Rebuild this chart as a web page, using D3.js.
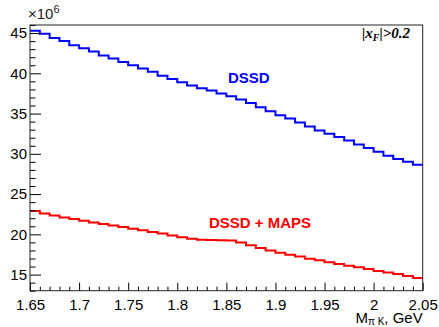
<!DOCTYPE html>
<html>
<head>
<meta charset="utf-8">
<script src="https://cdn.jsdelivr.net/npm/d3@7"></script>
<style>
  body { margin: 0; background: #fff; }
  svg { display: block; font-family: "Liberation Sans", Arial, sans-serif; }
</style>
</head>
<body>
<div id="vis"></div>
<script>
// bin edges: 40 bins of 0.01 GeV from 1.65 to 2.05
const binLow = 1.65, binWidth = 0.01;

// counts, x10^6
const dssd = [45.3, 44.9, 44.4, 44.0, 43.5, 43.1, 42.7, 42.2, 41.85, 41.4,
              41.0, 40.6, 40.2, 39.7, 39.3, 38.9, 38.5, 38.15, 37.85, 37.5,
              37.15, 36.75, 36.3, 35.8, 35.3, 34.8, 34.39, 33.89, 33.4, 32.9,
              32.49, 32.08, 31.66, 31.16, 30.71, 30.25, 29.76, 29.35, 29.01, 28.64];

const dssdMaps = [22.9, 22.6, 22.35, 22.1, 21.9, 21.7, 21.48, 21.27, 21.1, 20.9,
                  20.7, 20.5, 20.3, 20.1, 19.85, 19.65, 19.45, 19.33, 19.3, 19.28,
                  19.25, 19.0, 18.65, 18.3, 18.0, 17.72, 17.46, 17.25, 16.98, 16.77,
                  16.52, 16.32, 16.1, 15.9, 15.68, 15.45, 15.26, 15.06, 14.82, 14.58];

const xTicks = [1.65, 1.7, 1.75, 1.8, 1.85, 1.9, 1.95, 2, 2.05];
const yTicks = [15, 20, 25, 30, 35, 40, 45];

const W = 439, H = 327;
const frame = { left: 30, top: 25, right: 422.7, bottom: 290.7 };

const svg = d3.select("#vis").append("svg")
    .attr("width", W)
    .attr("height", H);

const x = d3.scaleLinear().domain([1.65, 2.05]).range([frame.left, frame.right]);
const y = d3.scaleLinear().domain([13, 46]).range([frame.bottom, frame.top]);

// histogram as step line
function toSteps(vals) {
    const pts = vals.map((v, i) => [binLow + i * binWidth, v]);
    pts.push([binLow + vals.length * binWidth, vals[vals.length - 1]]);
    return pts;
}
const step = d3.line()
    .curve(d3.curveStepAfter)
    .x(d => x(d[0]))
    .y(d => y(d[1]));

svg.append("path")
    .datum(toSteps(dssd))
    .attr("fill", "none")
    .attr("stroke", "#0000ff")
    .attr("stroke-width", 2)
    .attr("d", step);

svg.append("path")
    .datum(toSteps(dssdMaps))
    .attr("fill", "none")
    .attr("stroke", "#ff0000")
    .attr("stroke-width", 2)
    .attr("d", step);

// minor ticks
const yMinor = d3.range(13, 47, 1).filter(v => v % 5 !== 0);
const xMinor = d3.range(0, 41).map(i => +(1.65 + i * 0.01).toFixed(2))
    .filter(v => !xTicks.some(t => Math.abs(t - v) < 1e-6));

svg.append("g")
    .attr("transform", `translate(${frame.left},0)`)
    .call(d3.axisLeft(y).tickValues(yMinor).tickSize(-5.5).tickFormat(""))
    .call(g => g.select(".domain").remove());

svg.append("g")
    .attr("transform", `translate(0,${frame.bottom})`)
    .call(d3.axisBottom(x).tickValues(xMinor).tickSize(-4).tickFormat(""))
    .call(g => g.select(".domain").remove());

// major ticks + labels
const yAxis = svg.append("g")
    .attr("transform", `translate(${frame.left},0)`)
    .call(d3.axisLeft(y).tickValues(yTicks).tickSize(-11).tickPadding(3).tickFormat(d3.format("d")));
yAxis.select(".domain").remove();
yAxis.selectAll("text").attr("font-size", 15).attr("fill", "#000")
    .attr("font-family", "Liberation Sans, Arial, sans-serif");

const xAxis = svg.append("g")
    .attr("transform", `translate(0,${frame.bottom})`)
    .call(d3.axisBottom(x).tickValues(xTicks).tickSize(-8).tickPadding(9).tickFormat(d => String(d)));
xAxis.select(".domain").remove();
xAxis.selectAll("text").attr("font-size", 15).attr("fill", "#000")
    .attr("font-family", "Liberation Sans, Arial, sans-serif");

// frame
svg.append("rect")
    .attr("x", frame.left)
    .attr("y", frame.top)
    .attr("width", frame.right - frame.left)
    .attr("height", frame.bottom - frame.top)
    .attr("fill", "none")
    .attr("stroke", "#222")
    .attr("stroke-width", 1);

// exponent
const expo = svg.append("text")
    .attr("x", 28)
    .attr("y", 19)
    .attr("font-size", 15)
    .attr("fill", "#222");
expo.append("tspan").text("\u00d710");
expo.append("tspan").attr("font-size", 11).attr("dy", -6).text("6");

// axis title
const xt = svg.append("text")
    .attr("x", frame.right)
    .attr("y", 323)
    .attr("text-anchor", "end")
    .attr("font-size", 15)
    .attr("fill", "#000");
xt.append("tspan").text("M");
xt.append("tspan").attr("font-size", 10).attr("dy", 1.5).text("\u03c0 K");
xt.append("tspan").attr("dy", -1.5).text(", GeV");

// labels
svg.append("text")
    .attr("x", 228)
    .attr("y", 83)
    .attr("font-size", 15)
    .attr("font-weight", "bold")
    .attr("fill", "#0000ff")
    .text("DSSD");

svg.append("text")
    .attr("x", 209)
    .attr("y", 228)
    .attr("font-size", 15)
    .attr("font-weight", "bold")
    .attr("fill", "#ff0000")
    .text("DSSD + MAPS");

const cut = svg.append("text")
    .attr("x", 410)
    .attr("y", 38)
    .attr("text-anchor", "end")
    .attr("font-family", "Liberation Serif, Times New Roman, serif")
    .attr("font-size", 15)
    .attr("font-weight", "bold")
    .attr("font-style", "italic")
    .attr("fill", "#000");
cut.append("tspan").text("|x");
cut.append("tspan").attr("font-size", 10).attr("dy", 3).text("F");
cut.append("tspan").attr("dy", -3).text("|>0.2");
</script>
</body>
</html>
